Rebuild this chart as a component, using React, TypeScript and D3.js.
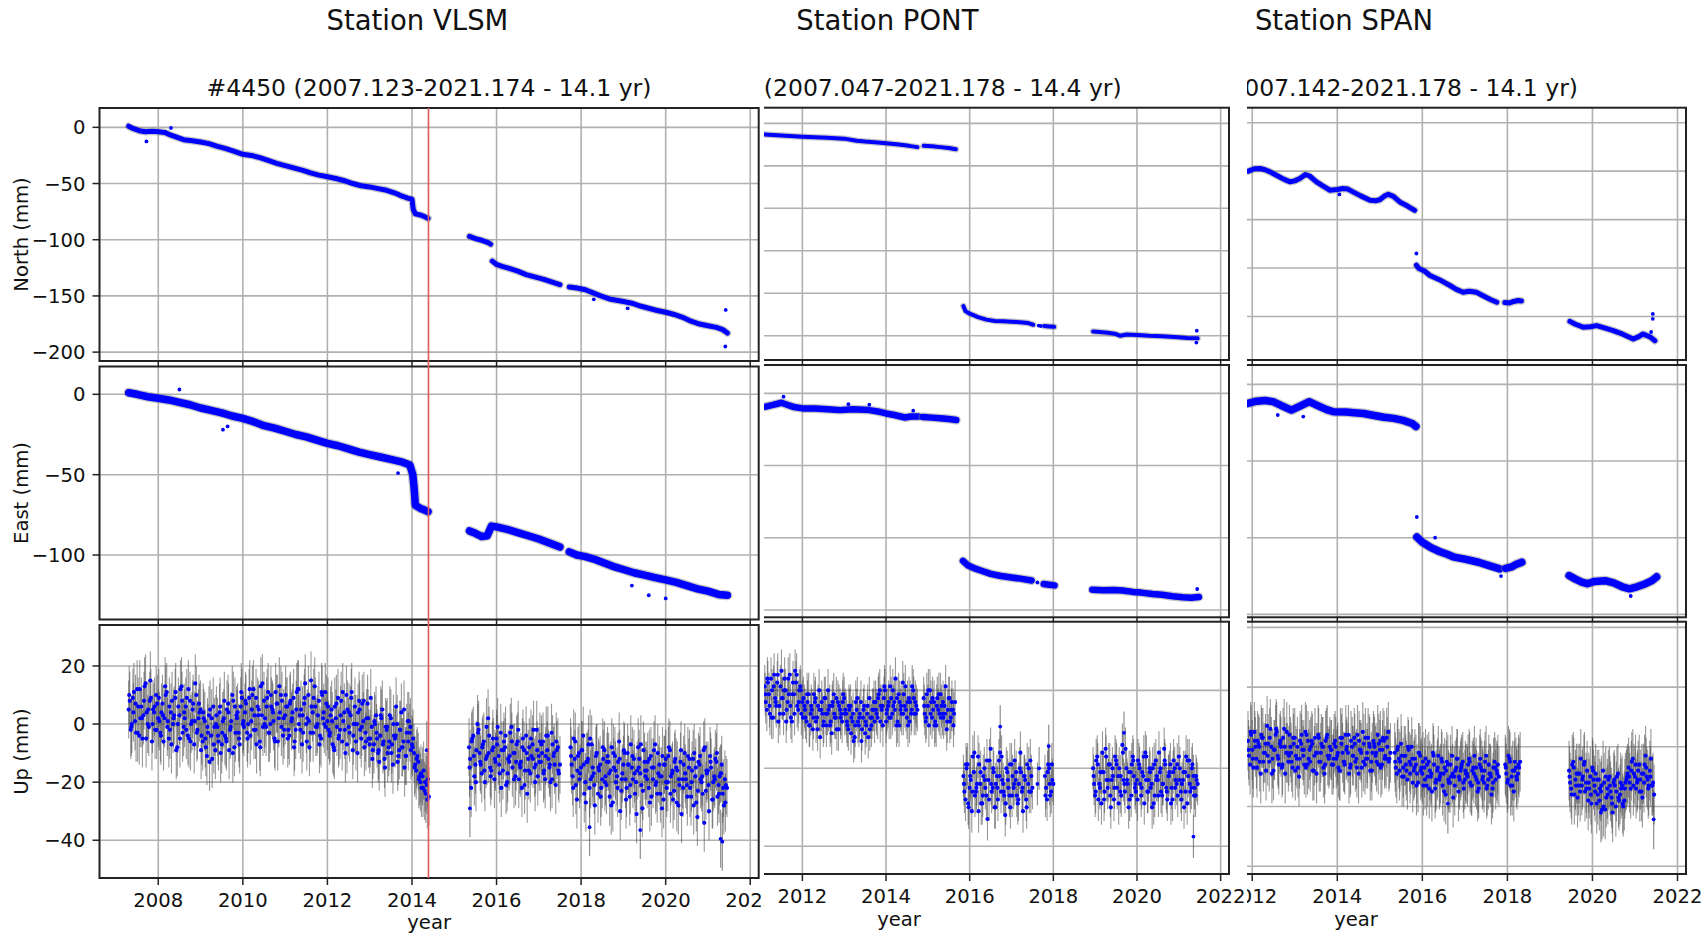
import React from 'react';
import * as d3 from 'd3';

type Pt = [number, number];
type UpSeg = { t0: number; values: number[] };

// shared
const yearTicks = [2008, 2010, 2012, 2014, 2016, 2018, 2020, 2022];
const upStep = 0.05; // years between plotted Up epochs of one list

// ---------- Station VLSM ----------
const vlsmNorthTicks = [0, -50, -100, -150, -200];
const vlsmEastTicks = [0, -50, -100];
const vlsmUpTicks = [20, 0, -20, -40];

const vlsmNorth: Pt[][] = [
  [[2007.30, 1], [2007.40, -1], [2007.55, -3], [2007.70, -4], [2007.85, -3.5], [2008.00, -4], [2008.15, -4.5], [2008.30, -7],
   [2008.45, -9], [2008.60, -11], [2008.80, -12], [2009.00, -13], [2009.20, -14.5], [2009.40, -17], [2009.60, -19], [2009.80, -21.5],
   [2010.00, -24], [2010.20, -25], [2010.40, -27], [2010.60, -29.5], [2010.80, -32], [2011.00, -34], [2011.20, -36], [2011.40, -38],
   [2011.60, -40.5], [2011.80, -42.5], [2012.00, -44], [2012.20, -45.5], [2012.40, -47.5], [2012.60, -50], [2012.80, -52],
   [2013.00, -53], [2013.20, -54.5], [2013.40, -56], [2013.60, -58.5], [2013.75, -61], [2013.90, -63], [2014.00, -64],
   [2014.03, -73], [2014.08, -77], [2014.20, -78], [2014.30, -79.5], [2014.38, -81]],
  [[2015.36, -97], [2015.50, -99], [2015.65, -100.5], [2015.80, -102.5], [2015.86, -104]],
  [[2015.90, -119], [2016.00, -122], [2016.15, -124], [2016.30, -125.5], [2016.50, -128], [2016.70, -131], [2016.90, -133],
   [2017.10, -135], [2017.30, -137.5], [2017.50, -140]],
  [[2017.72, -142], [2017.90, -143], [2018.10, -144.5], [2018.30, -147.5], [2018.50, -150.5], [2018.70, -153], [2019.00, -155],
   [2019.20, -156.5], [2019.40, -159], [2019.60, -161], [2019.80, -163], [2020.00, -164.5], [2020.20, -166.5], [2020.40, -169],
   [2020.60, -172.5], [2020.80, -175], [2021.00, -176.5], [2021.20, -178], [2021.35, -180], [2021.46, -183]],
];
const vlsmNorthOut: Pt[] = [[2007.72, -12.5], [2008.30, -0.5], [2021.42, -162.5], [2021.41, -195], [2018.3, -153], [2019.1, -161]];

const vlsmEast: Pt[][] = [
  [[2007.30, 1], [2007.50, 0], [2007.75, -1.5], [2008.00, -2.5], [2008.25, -3.5], [2008.50, -5], [2008.75, -6.5], [2009.00, -8.5],
   [2009.25, -10], [2009.50, -11.5], [2009.75, -13.5], [2010.00, -15], [2010.25, -17], [2010.50, -19.5], [2010.75, -21],
   [2011.00, -23], [2011.25, -25], [2011.50, -26.5], [2011.75, -28.5], [2012.00, -30.5], [2012.25, -32], [2012.50, -34],
   [2012.75, -36], [2013.00, -37.5], [2013.25, -39], [2013.50, -40.5], [2013.75, -42], [2013.95, -44], [2014.02, -50],
   [2014.05, -58], [2014.08, -69], [2014.20, -71], [2014.30, -72], [2014.38, -73]],
  [[2015.36, -85], [2015.50, -86.5], [2015.65, -88.5], [2015.78, -88], [2015.88, -82], [2016.00, -82.5], [2016.25, -84],
   [2016.50, -86], [2016.75, -88], [2017.00, -90], [2017.25, -92.5], [2017.50, -95]],
  [[2017.72, -98], [2017.90, -100], [2018.10, -101], [2018.30, -102.5], [2018.50, -104.5], [2018.75, -107], [2019.00, -109],
   [2019.25, -111], [2019.50, -112.5], [2019.75, -114], [2020.00, -115.5], [2020.25, -117], [2020.50, -119], [2020.75, -121],
   [2021.00, -122.5], [2021.25, -124.5], [2021.46, -125]],
];
const vlsmEastOut: Pt[] = [[2009.53, -22], [2009.64, -20], [2013.67, -49], [2019.2, -119], [2019.6, -125], [2020.0, -127], [2008.5, 3]];

const vlsmUp: UpSeg[] = [
  { t0: 2007.30, values: [
    5, -2, 9, 1, 12, -4, 6, 3, 14, 0, 8, -6, 4, 10, 2,
    -3, 7, 2, 11, -5, 4, 0, 9, -8, 3, 13, -1, 6, -4, 8, 1, -7, 10, 2, 5,
    -6, 1, -11, 3, -4, 6, -9, -1, 4, -7,
    2, -5, 7, -2, 10, -8, 3, -3, 6, 0,
    4, -3, 9, 1, 12, -2, 6, -6, 3, 8, -1, 11, 0, 5, -5, 7, 2, 10, -4, 3,
    6, -4, 1, 9, -2, 12, 3, -7, 7, 0, 10, -3, 4, 13, -1, 8, -5, 2, 11, 1,
    -4, 5, -8, 2, 9, -2, -6, 4, 10, -1, 3, -9, 6, 0, 8, -5, 1, -3, 7, -7,
    -1, -7, 3, -10, -4, 5, -12, -2, -8, 2, -14, -5, 0, -9, 4, -6, -11, 1, -3, -7,
    -10, -16, -13, -20, -18, -23, -21, -25] },
  { t0: 2015.35, values: [
    -8, -22, -4, -14, 0, -10, -17, -6, -12, 2, -15, -9, -19, -5,
    -11, -3, -16, -8, -20, -13, -1, -10, -18, -6, -14, -22, -9, -4, -12, -17, -7, -15, -2, -11,
    -13, -6, -19, -9, -15, -3, -11, -21, -8, -14] },
  { t0: 2017.75, values: [
    -8, -18, -12, -26, -10, -15, -4, -20, -13, -22, -7, -17, -11, -24, -14, -19,
    -9, -21, -13, -16, -27, -11, -18, -6, -23, -14, -19, -10, -25, -15, -12, -20, -8, -17, -29, -13,
    -16, -22, -11, -19, -7, -24, -14, -18, -26, -12, -20, -9, -17, -23, -15, -28, -13, -19, -10, -21,
    -15, -25, -12, -18, -32, -14, -20, -9, -23, -16, -11, -26, -18, -13, -21, -17, -24, -19, -22] },
];
// epochs lying between those above
const vlsmUpMid: UpSeg[] = [
  { t0: 2007.325, values: [
    8, 0, 11, -3, 6, 2, -5, 13, 4, -1, 9, 5, -2, 7, 1,
    4, -6, 10, 1, -2, 8, 3, -9, 6, 12, -3, 2, 9, -5, 0, 7, 14, -2, 4, -4,
    2, -8, -3, 5, -12, -1, 3, -6, -10, 1,
    -4, 5, -9, 1, 8, -3, 4, -7, 9, -1,
    7, 0, -4, 10, 3, -7, 5, 13, -1, 2, 9, -3, 6, 1, 11, -6, 4, 8, -2, 6,
    -2, 8, 4, -6, 11, 0, 5, -3, 14, 2, -8, 6, 9, -1, 3, -4, 10, 0, 7, -2,
    3, -7, 6, -1, -4, 8, 1, -10, 5, -3, 11, 0, -6, 4, -2, 7, -8, 2, -5, 9,
    -9, 0, -5, -13, 2, -6, -1, -10, 3, -7, -4, 6, -11, -2, -8, -15, -3, 1, -9, -5,
    -14, -11, -18, -22, -16, -24, -19] },
  { t0: 2015.375, values: [
    -12, -5, -18, -9, -2, -14, -7, -20, -11, -4, -16, -8, -13, -1,
    -17, -9, -6, -21, -12, -3, -15, -10, -7, -19, -13, -5, -16, -24, -8, -11, -2, -14, -18, -6,
    -10, -16, -4, -12, -20, -7, -14, -9, -17] },
  { t0: 2017.775, values: [
    -14, -5, -21, -11, -17, -9, -24, -13, -7, -19, -15, -28, -10, -16, -22, -12,
    -18, -11, -25, -8, -15, -20, -13, -30, -17, -10, -22, -14, -7, -19, -24, -16, -12, -21, -9, -18,
    -13, -27, -15, -9, -20, -17, -24, -11, -14, -22, -8, -18, -26, -12, -16, -21, -31, -14, -19, -11,
    -22, -16, -10, -27, -13, -19, -24, -8, -17, -30, -15, -20, -12, -25, -18, -14, -28, -21] },
];
const vlsmUpQtr: UpSeg[] = [
  { t0: 2007.3125, values: [
    10, -1, 4, 7, -3, 12, 2, 8, -5, 5, 15, 0, 6, -2,
    9, -4, 3, 13, -1, 6, -7, 2, 11, 0, -5, 8, 4, -2, 12, -6, 5, 1, -3, 7,
    -9, 4, -5, -1, -13, 2, -7, 0, -4, 6,
    -3, 8, -6, 4, -1, -10, 6, 2, -5, 11,
    1, 8, -5, 12, 5, -2, 9, 3, -8, 14, 0, 6, -3, 10, 4, -6, 7, 13, -1, 2,
    10, -5, 7, 2, -8, 5, 12, -2, 3, 9, -6, 1, 15, -3, 6, 0, -7, 11, 4, -1,
    6, -3, 1, -9, 7, -5, 3, 11, -2, -7, 4, 9, -4, 0, -10, 5, -1, 8, -6, 2,
    -5, -12, 1, -3, -9, 3, -7, -15, -1, -6, -10, 0, -4, -13, -2, -8, 5, -11, -6, -1,
    -8, -15, -12, -19, -17, -22, -20, -26] },
  { t0: 2015.3625, values: [
    -15, -6, -11, -20, -3, -13, -8, -16, -1, -10, -18, -5, -12, -7,
    -14, -22, -9, -4, -17, -11, -6, -19, -13, -2, -15, -8, -21, -10, -16, -5, -12, -20, -9, -13,
    -7, -17, -11, -4, -14, -19, -10, -6, -16] },
  { t0: 2017.7625, values: [
    -11, -22, -6, -16, -19, -9, -14, -27, -12, -5, -18, -21, -10, -15, -25, -8,
    -20, -13, -17, -28, -10, -16, -22, -12, -19, -9, -26, -14, -21, -11, -17, -31, -15, -7, -23, -16,
    -19, -12, -25, -15, -21, -10, -18, -29, -14, -20, -11, -24, -16, -13, -27, -19, -9, -22, -17, -25,
    -12, -20, -28, -15, -23, -11, -18, -34, -16, -21, -13, -26, -19, -10, -24, -17, -22, -27] },
];
const vlsmUpOut: Pt[] = [[2021.30, -39.5], [2021.34, -40.5], [2018.2, -35.5], [2019.4, -36.5], [2015.37, -29], [2014.35, -9]];
const vlsmUpSigma = 10;
const vlsmEvent = 2014.39;

// ---------- Station PONT ----------
const pontNorthTicks = [0, -50, -100, -150, -200, -250];
const pontEastTicks = [0, -50, -100, -150];
const pontUpTicks = [0, -20, -40];

const pontNorth: Pt[][] = [
  [[2011.10, -13], [2011.40, -14], [2011.70, -15], [2012.00, -15.7], [2012.30, -16.5], [2012.60, -17], [2013.00, -18],
   [2013.30, -20.5], [2013.50, -21.5], [2013.80, -22.5], [2014.00, -23.5], [2014.30, -25], [2014.55, -26.5], [2014.75, -28]],
  [[2014.90, -26.5], [2015.10, -27], [2015.30, -28], [2015.50, -29], [2015.67, -30.5]],
  [[2015.85, -215], [2015.90, -221], [2016.00, -224], [2016.20, -228], [2016.40, -231], [2016.60, -232.5], [2016.80, -233],
   [2017.00, -233.5], [2017.20, -234], [2017.40, -235], [2017.52, -237]],
  [[2017.78, -238.5], [2017.90, -239], [2018.02, -239.5]],
  [[2018.95, -245], [2019.10, -245.5], [2019.30, -246.5], [2019.50, -248], [2019.60, -250], [2019.75, -248.5], [2020.00, -249],
   [2020.30, -250], [2020.60, -250.5], [2020.90, -251.5], [2021.20, -252.5], [2021.45, -253]],
];
const pontNorthOut: Pt[] = [[2017.65, -238], [2017.70, -238.5], [2021.43, -244], [2021.42, -258]];

const pontEast: Pt[][] = [
  [[2011.10, -9.3], [2011.30, -8], [2011.50, -6.5], [2011.60, -7.5], [2011.80, -9.5], [2012.00, -10.4], [2012.30, -10.5],
   [2012.60, -11], [2012.90, -11.6], [2013.20, -11], [2013.60, -11.6], [2013.80, -12.5], [2014.00, -13.9], [2014.20, -15],
   [2014.45, -16.7], [2014.60, -16], [2014.77, -16]],
  [[2014.88, -16.3], [2015.10, -16.8], [2015.30, -17.2], [2015.50, -17.8], [2015.68, -18.5]],
  [[2015.84, -116], [2015.95, -119], [2016.10, -121], [2016.30, -123], [2016.50, -125], [2016.75, -126.5], [2017.00, -127.5],
   [2017.25, -128.5], [2017.48, -129.6]],
  [[2017.77, -132], [2017.90, -132.5], [2018.03, -133]],
  [[2018.93, -136], [2019.20, -136.3], [2019.45, -136.2], [2019.65, -136.5], [2019.90, -137.5], [2020.10, -138], [2020.37, -138.9],
   [2020.60, -139.5], [2020.85, -140.5], [2021.09, -141.2], [2021.30, -141.5], [2021.48, -141]],
];
const pontEastOut: Pt[] = [[2011.55, -2.3], [2013.10, -7.5], [2013.60, -7.8], [2014.65, -12], [2017.62, -131], [2021.44, -135.5]];

const pontUp: UpSeg[] = [
  { t0: 2011.10, values: [
    1, -5, -1, 3, -7, -2, 2, -4, 5, -6, 0, -3, 4, -8, -1, 2, -5, 1, -3,
    -4, -8, -1, -6, -10, -3, -7, 0, -5, -9, -2, -6, -4, -11, -1, -7, -3, -5, -8, -2,
    -6, -10, -4, -8, -12, -5, -9, -3, -7, -11, -6, -2, -9, -5,
    -3, -7, 0, -5, -2, -8, -4, 1, -6, -3, -9, -1, -5, 2, -4, -7, -2, -6, 0, -3, -5] },
  { t0: 2014.90, values: [-2, -8, -4, 0, -7, -3, -9, -5, -1, -6, -4, -10, -2, -7, -5, -3] },
  { t0: 2015.85, values: [
    -22, -28, -19, -25, -31, -21, -26, -17, -24, -29, -20, -27, -23, -15, -25, -30, -22, -18, -26, -24,
    -32, -21, -27, -19, -25, -23, -29, -20, -26, -22, -28, -24, -18, -25] },
  { t0: 2017.80, values: [-22, -28, -20, -26, -24] },
  { t0: 2018.95, values: [
    -20, -27, -17, -24, -29, -21, -15, -25, -19, -23, -28, -18, -22, -26, -14, -24, -20, -30, -21, -17,
    -25, -23, -19, -27, -22, -16, -26, -20, -24, -29, -18, -23, -21, -27, -15, -25, -22, -19, -28, -20,
    -24, -17, -26, -23, -21, -29, -18, -25, -22, -27, -24] },
];
const pontUpMid: UpSeg[] = [
  { t0: 2011.125, values: [
    -3, 2, -6, 0, 4, -4, -8, 1, -2, 3, -5, -1, -7, 2, 5, -4, 0, -6, -2,
    -7, -3, -9, -5, -1, -8, -4, -12, -6, -2, -9, -5, -8, -3, -7, -10, -4, -6, -1, -5,
    -9, -5, -7, -13, -3, -8, -6, -10, -4, -9, -12, -7, -5, -8,
    -6, -1, -4, -9, 0, -5, -7, -2, -4, 3, -8, -3, -6, -1, -5, -9, -3, 1, -6, -4] },
  { t0: 2014.925, values: [-6, -1, -9, -3, -5, -8, -2, -6, -4, -7, 1, -5, -8, -3, -6] },
  { t0: 2015.875, values: [
    -26, -20, -30, -23, -17, -27, -24, -19, -29, -22, -25, -33, -18, -26, -21, -24, -28, -16, -23, -27,
    -20, -25, -30, -22, -18, -27, -24, -21, -31, -23, -19, -26, -22] },
  { t0: 2017.825, values: [-25, -19, -27, -23] },
  { t0: 2018.975, values: [
    -24, -18, -28, -21, -16, -26, -23, -19, -30, -22, -17, -25, -20, -27, -23, -15, -24, -28, -19, -22,
    -26, -18, -24, -21, -29, -17, -23, -25, -20, -27, -22, -16, -26, -24, -19, -28, -21, -25, -18, -23,
    -27, -20, -24, -30, -17, -22, -26, -19, -25, -23] },
];
const pontUpQtr: UpSeg[] = [
  { t0: 2011.1125, values: [
    -1, 3, -4, -7, 1, -3, 4, -6, -2, 0, -8, 3, -4, -1, -6, 4, -3, 0, -7,
    -5, -1, -9, -4, -7, -2, -10, -5, -3, -8, -6, 0, -9, -4, -6, -2, -10, -7, -3, -6,
    -8, -4, -11, -6, -9, -2, -7, -13, -5, -8, -4, -10, -7, -3,
    -5, -2, -8, -4, 1, -6, -3, -7, 0, -5, -2, -9, -4, -6, 1, -3, -8, -5, -2, -6] },
  { t0: 2014.9125, values: [-4, -7, 0, -6, -2, -9, -4, -1, -7, -3, -6, -8, -2, -5, -9] },
  { t0: 2015.8625, values: [
    -24, -19, -29, -22, -26, -16, -25, -31, -21, -27, -23, -18, -28, -24, -20, -30, -25, -22, -17, -26,
    -29, -23, -19, -27, -24, -21, -28, -16, -25, -22, -30, -20, -26] },
  { t0: 2017.8125, values: [-27, -21, -24, -19] },
  { t0: 2018.9625, values: [
    -22, -26, -19, -25, -21, -28, -17, -23, -27, -20, -25, -19, -29, -22, -16, -26, -23, -21, -27, -18,
    -24, -28, -20, -25, -17, -23, -26, -21, -30, -19, -23, -27, -20, -24, -18, -26, -22, -29, -21, -25,
    -19, -23, -28, -21, -26, -18, -24, -20, -27, -22] },
];
const pontUpOut: Pt[] = [[2021.35, -37.5], [2016.73, -9.3], [2017.89, -14.3], [2019.69, -10.9], [2017.62, -24], [2017.66, -20]];
const pontUpSigma = 5.5;

// ---------- Station SPAN ----------
const spanNorthTicks = [0, -50, -100, -150, -200];
const spanEastTicks = [0, -50, -100, -150];
const spanUpTicks = [40, 20, 0, -20, -40];

const spanNorth: Pt[][] = [
  [[2011.91, -50], [2012.05, -47.5], [2012.18, -47.2], [2012.30, -48.5], [2012.42, -50.7], [2012.60, -55], [2012.75, -58.5],
   [2012.89, -61], [2013.00, -60], [2013.12, -57.6], [2013.25, -53.5], [2013.35, -55], [2013.51, -61], [2013.65, -65],
   [2013.83, -69.7], [2014.00, -69], [2014.14, -67.9], [2014.25, -68.5], [2014.37, -71.4], [2014.55, -75.5], [2014.77, -80],
   [2014.90, -80.5], [2015.00, -79.5], [2015.10, -76], [2015.20, -73.8], [2015.32, -76], [2015.47, -81.8], [2015.65, -86],
   [2015.82, -90.4]],
  [[2015.86, -147], [2015.92, -150.5], [2016.05, -153], [2016.18, -157.7], [2016.40, -162], [2016.65, -168], [2016.80, -172],
   [2016.96, -175], [2017.10, -174], [2017.27, -175], [2017.45, -179], [2017.60, -182.5], [2017.75, -185.3]],
  [[2017.94, -185.5], [2018.05, -186], [2018.15, -184.5], [2018.25, -183.5], [2018.33, -184]],
  [[2019.47, -205], [2019.60, -208], [2019.78, -211], [2019.95, -210.5], [2020.10, -209.4], [2020.30, -212], [2020.49, -214.6],
   [2020.70, -218], [2020.96, -223.2], [2021.10, -220.5], [2021.19, -218], [2021.35, -221], [2021.47, -225]],
];
const spanNorthOut: Pt[] = [[2015.86, -135], [2014.05, -74], [2021.42, -197.3], [2021.42, -202.4], [2021.38, -216]];

const spanEast: Pt[][] = [
  [[2011.90, -12.4], [2012.10, -11], [2012.30, -10.5], [2012.49, -11.3], [2012.70, -14], [2012.92, -16.8], [2013.10, -14.5],
   [2013.34, -11.3], [2013.55, -14], [2013.75, -16.5], [2013.91, -17.9], [2014.20, -18], [2014.40, -18.5], [2014.62, -19],
   [2014.90, -20.5], [2015.10, -21.5], [2015.33, -22.2], [2015.55, -23.5], [2015.76, -25.5], [2015.85, -27.5]],
  [[2015.87, -99.6], [2016.00, -103], [2016.18, -106.1], [2016.40, -109], [2016.60, -111], [2016.75, -112.7], [2017.00, -114],
   [2017.32, -116], [2017.55, -118], [2017.82, -120.3]],
  [[2017.96, -120], [2018.10, -119], [2018.20, -117.5], [2018.34, -116]],
  [[2019.45, -124.7], [2019.60, -127], [2019.75, -129], [2019.88, -130], [2020.05, -128.5], [2020.30, -128], [2020.50, -129.5],
   [2020.70, -132], [2020.87, -133.3], [2021.05, -132], [2021.25, -130], [2021.40, -128], [2021.51, -125.5]],
];
const spanEastOut: Pt[] = [[2015.87, -86.5], [2016.30, -100], [2017.85, -125], [2020.90, -138], [2012.6, -20], [2013.2, -21]];

const spanUp: UpSeg[] = [
  { t0: 2011.90, values: [
    2, -6, -1, 5, -4, 1, -9, 3, -2, 7, -5, 0, -8, 4, -3, 1, -7, 6, -2, -5,
    0, -7, 3, -4, -10, 1, -3, 5, -6, -1, 2, -8, -2, 4, -5, 0, -9, 3, -4, -1,
    -6, 2, -3, -8, 1, -5, 4, -2, -7, 0, 3, -4, -9, -1, 5, -6, -2, 1, -5, 2,
    -3, 4, -1, -6, 2, -4, 5, -2] },
  { t0: 2015.35, values: [
    -2, -9, -4, 1, -7, -3, -11, -5, 0, -8, -6, -12, -3, -9,
    -7, -13, -5, -10, -2, -14, -8, -11, -4, -9, -16, -6, -12, -3, -10, -7, -15, -8, -5, -11,
    -9, -4, -13, -7, -10, -15, -6, -8, -12, -3, -11, -9, -14, -5, -8, -10] },
  { t0: 2017.95, values: [-6, -12, -4, -10, -15, -7, -9, -5] },
  { t0: 2019.45, values: [
    -8, -14, -5, -11, -17, -9, -13, -6, -12, -18, -10, -7,
    -13, -19, -11, -15, -8, -21, -14, -10, -17, -12, -20, -9, -16, -13, -18, -11,
    -7, -14, -4, -10, -12, -6, -15, -9, -3, -11, -8, -13, -16] },
];
const spanUpMid: UpSeg[] = [
  { t0: 2011.925, values: [
    -3, 4, -7, 0, 2, -5, 3, -2, -8, 1, 6, -4, -1, 5, -6, 0, 3, -9, -2, 4,
    -5, 1, -3, -7, 2, -1, -6, 4, -4, 0, -8, 3, -2, -5, 1, -7, 2, -3, 0, -6,
    1, -4, -7, 3, -2, -6, 0, -9, 2, -3, -5, 4, -1, -7, 1, -4, 3, -8, -2, 0,
    -5, 1, -7, 3, -3, 0, -4] },
  { t0: 2015.375, values: [
    -7, 0, -5, -10, -3, -8, -1, -6, -12, -4, -9, -2, -7, -13,
    -4, -10, -8, -15, -6, -11, -3, -9, -13, -7, -5, -12, -10, -17, -8, -4, -11, -6, -14, -9,
    -6, -12, -8, -3, -11, -14, -7, -10, -5, -13, -9, -16, -7, -11, -6] },
  { t0: 2017.975, values: [-9, -3, -13, -8, -5, -11, -7] },
  { t0: 2019.475, values: [
    -12, -6, -16, -9, -13, -4, -10, -15, -8, -14, -19, -11,
    -9, -16, -14, -21, -12, -17, -11, -15, -22, -13, -10, -18, -14, -20, -12, -9,
    -12, -5, -9, -14, -8, -11, -17, -6, -10, -13, -4, -12] },
];
const spanUpQtr: UpSeg[] = [
  { t0: 2011.9125, values: [
    -1, 5, -4, 2, -7, 0, 4, -5, 1, -3, 3, -9, -1, 6, -4, 2, -6, 0, 5, -3,
    -2, 3, -8, 0, -4, 4, -1, -7, 2, -5, 1, -3, -9, 3, -2, 0, -6, 4, -3, -1,
    -4, 0, -2, -8, 3, -5, -1, 4, -6, -3, 1, -7, 2, -2, -5, 3, -4, 0, -8, 1,
    -2, -6, 2, -1, -4, 3, -5] },
  { t0: 2015.3625, values: [
    -5, -1, -8, -3, -10, -6, 0, -9, -4, -7, -13, -2, -8, -5,
    -11, -6, -14, -9, -3, -12, -7, -10, -5, -15, -8, -11, -6, -9, -13, -4, -10, -7, -12, -8,
    -10, -5, -13, -9, -7, -12, -4, -11, -8, -14, -6, -10, -12, -7, -9] },
  { t0: 2017.9625, values: [-7, -11, -5, -13, -8, -10, -6] },
  { t0: 2019.4625, values: [
    -10, -16, -7, -13, -9, -15, -11, -5, -14, -12, -16, -8,
    -15, -11, -18, -13, -20, -10, -16, -13, -19, -11, -15, -17, -12, -19, -14, -10,
    -10, -8, -13, -6, -11, -15, -9, -12, -7, -14, -10, -13] },
];
const spanUpOut: Pt[] = [[2021.44, -24.3], [2020.2, -22], [2016.6, -19]];
const spanUpSigma = 10;

const fmt = (d: number) => (d < 0 ? `\u2212${Math.abs(d)}` : `${d}`);

const figures = [
  {
    key: 'vlsm', clipX: [0, 764], title: 'Station VLSM', titleX: 417.4,
    subtitle: '#4450 (2007.123-2021.174 - 14.1 yr)', subAnchor: 'middle', subX: 429,
    left: 99.5, right: 758.7, tops: [108, 366.5, 625], h: 253, xDomain: [2006.61, 2022.2],
    tickBase: 906.7, yearBase: 929, event: vlsmEvent,
    panels: [
      { label: 'North (mm)', domain: [-207.9, 17.2], ticks: vlsmNorthTicks, segs: vlsmNorth, out: vlsmNorthOut, w: 5 },
      { label: 'East (mm)', domain: [-140.1, 17.3], ticks: vlsmEastTicks, segs: vlsmEast, out: vlsmEastOut, w: 7.5 },
      { label: 'Up (mm)', domain: [-53, 34.1], ticks: vlsmUpTicks, up: [...vlsmUp, ...vlsmUpMid, ...vlsmUpQtr], out: vlsmUpOut, sigma: vlsmUpSigma },
    ],
  },
  {
    key: 'pont', clipX: [764, 1247], title: 'Station PONT', titleX: 887.4,
    subtitle: '(2007.047-2021.178 - 14.4 yr)', subAnchor: 'end', subX: 1121.7,
    left: 569, right: 1229, tops: [107.7, 365, 621.7], h: 252.3, xDomain: [2006.42, 2022.2],
    tickBase: 902.7, yearBase: 926, event: null,
    panels: [
      { label: 'North (mm)', domain: [-278.5, 18.4], ticks: pontNorthTicks, segs: pontNorth, out: pontNorthOut, w: 4 },
      { label: 'East (mm)', domain: [-155.1, 19.65], ticks: pontEastTicks, segs: pontEast, out: pontEastOut, w: 6.5 },
      { label: 'Up (mm)', domain: [-47.1, 17.6], ticks: pontUpTicks, up: [...pontUp, ...pontUpMid, ...pontUpQtr], out: pontUpOut, sigma: pontUpSigma },
    ],
  },
  {
    key: 'span', clipX: [1247, 1707], title: 'Station SPAN', titleX: 1344,
    subtitle: '(2007.142-2021.178 - 14.1 yr)', subAnchor: 'end', subX: 1578,
    left: 1026, right: 1686, tops: [107.7, 365, 621.7], h: 252.3, xDomain: [2006.68, 2022.2],
    tickBase: 902.7, yearBase: 926, event: null,
    panels: [
      { label: 'North (mm)', domain: [-244.9, 15.5], ticks: spanNorthTicks, segs: spanNorth, out: spanNorthOut, w: 5 },
      { label: 'East (mm)', domain: [-151.9, 12.6], ticks: spanEastTicks, segs: spanEast, out: spanEastOut, w: 7.5 },
      { label: 'Up (mm)', domain: [-42.6, 41.9], ticks: spanUpTicks, up: [...spanUp, ...spanUpMid, ...spanUpQtr], out: spanUpOut, sigma: spanUpSigma },
    ],
  },
];

const BLUE = '#0000ff';
const GRID = '#b0b0b0';
const SPINE = '#222';
const EBAR = '#444';

function StationFigure({ f }: { f: any }) {
  const x = d3.scaleLinear().domain(f.xDomain).range([f.left, f.right]);
  const last = f.tops[2] + f.h;
  // only texts that reach into this station's strip of the page
  const shows = (a: number, b: number) => b > f.clipX[0] && a < f.clipX[1];
  return (
    <g clipPath={`url(#clip-${f.key})`}>
      <defs>
        <clipPath id={`clip-${f.key}`}>
          <rect x={f.clipX[0]} y={0} width={f.clipX[1] - f.clipX[0]} height={936} />
        </clipPath>
        {f.tops.map((t: number, i: number) => (
          <clipPath id={`${f.key}-ax${i}`} key={i}>
            <rect x={f.left} y={t} width={f.right - f.left} height={f.h} />
          </clipPath>
        ))}
      </defs>
      <rect x={f.clipX[0]} y={0} width={f.clipX[1] - f.clipX[0]} height={936} fill="#fff" />
      <text x={f.titleX} y={30} textAnchor="middle" fontSize={27.5} fill="#111">{f.title}</text>
      <text x={f.subX} y={96} textAnchor={f.subAnchor} fontSize={23.5} fill="#111">{f.subtitle}</text>

      {f.panels.map((p: any, i: number) => {
        const top = f.tops[i];
        const bottom = top + f.h;
        const y = d3.scaleLinear().domain(p.domain).range([bottom, top]);
        const line = d3.line<Pt>().x(d => x(d[0])).y(d => y(d[1]));
        return (
          <g key={i}>
            <rect x={f.left} y={top} width={f.right - f.left} height={f.h} fill="#fff" />
            {yearTicks.map(t => (
              <line key={`gx${t}`} x1={x(t)} x2={x(t)} y1={top} y2={bottom} stroke={GRID} strokeWidth={1.6} />
            ))}
            {p.ticks.map((t: number) => (
              <line key={`gy${t}`} x1={f.left} x2={f.right} y1={y(t)} y2={y(t)} stroke={GRID} strokeWidth={1.6} />
            ))}
            <g clipPath={`url(#${f.key}-ax${i})`}>
              {p.segs && p.segs.map((s: Pt[], j: number) => (
                <g key={j}>
                  <path d={line(s) || ''} fill="none" stroke="#808080" strokeOpacity={0.45}
                    strokeWidth={p.w + 2.5} strokeLinejoin="round" strokeLinecap="round" />
                  <path d={line(s) || ''} fill="none" stroke={BLUE}
                    strokeWidth={p.w} strokeLinejoin="round" strokeLinecap="round" />
                </g>
              ))}
              {p.up && p.up.map((s: UpSeg, j: number) => (
                <g key={j}>
                  {s.values.map((v, k) => {
                    const xx = x(s.t0 + k * upStep);
                    return (
                      <line key={k} x1={xx} x2={xx} y1={y(v - p.sigma)} y2={y(v + p.sigma)}
                        stroke={EBAR} strokeOpacity={0.55} strokeWidth={1.1} />
                    );
                  })}
                </g>
              ))}
              {p.up && p.out.map((d: Pt, k: number) => (
                <line key={`oe${k}`} x1={x(d[0])} x2={x(d[0])} y1={y(d[1] - p.sigma)} y2={y(d[1] + p.sigma)}
                  stroke={EBAR} strokeOpacity={0.6} strokeWidth={1.2} />
              ))}
              {p.up && p.up.map((s: UpSeg, j: number) => (
                <g key={`d${j}`}>
                  {s.values.map((v, k) => (
                    <circle key={k} cx={x(s.t0 + k * upStep)} cy={y(v)} r={2.1} fill={BLUE} />
                  ))}
                </g>
              ))}
              {p.out.map((d: Pt, k: number) => (
                <circle key={`o${k}`} cx={x(d[0])} cy={y(d[1])} r={1.9} fill={BLUE} />
              ))}
            </g>
            <rect x={f.left} y={top} width={f.right - f.left} height={f.h} fill="none" stroke={SPINE} strokeWidth={2} />
            {p.ticks.map((t: number) => (
              <g key={`ty${t}`}>
                <line x1={f.left - 7} x2={f.left} y1={y(t)} y2={y(t)} stroke={SPINE} strokeWidth={1.5} />
                {shows(f.left - 14 - 13 * fmt(t).length, f.left - 14) && (
                  <text x={f.left - 14} y={y(t) + 7} textAnchor="end" fontSize={19.6} fill="#111">{fmt(t)}</text>
                )}
              </g>
            ))}
            {yearTicks.map(t => (
              <line key={`tx${t}`} x1={x(t)} x2={x(t)} y1={bottom} y2={bottom + 7} stroke={SPINE} strokeWidth={1.5} />
            ))}
            {shows(f.left - 86, f.left - 57) && (
              <text transform={`translate(${f.left - 71.5},${(top + bottom) / 2}) rotate(-90)`} textAnchor="middle"
                fontSize={19.6} fill="#111">{p.label}</text>
            )}
          </g>
        );
      })}

      {f.event !== null && (
        <line x1={x(f.event)} x2={x(f.event)} y1={f.tops[0]} y2={last} stroke="#e05a5a" strokeWidth={1.6} />
      )}
      {yearTicks.filter(t => shows(x(t) - 25, x(t) + 25)).map(t => (
        <text key={`lx${t}`} x={x(t)} y={f.tickBase} textAnchor="middle" fontSize={19.6} fill="#111">{t}</text>
      ))}
      <text x={(f.left + f.right) / 2} y={f.yearBase} textAnchor="middle" fontSize={19.6} fill="#111">year</text>
    </g>
  );
}

export default function App() {
  return (
    <div style={{ position: 'absolute', left: 0, top: 0 }}>
      <svg width={1707} height={936} style={{ display: 'block', background: '#fff' }} fontFamily="DejaVu Sans">
        {figures.map(f => <StationFigure key={f.key} f={f} />)}
      </svg>
    </div>
  );
}
